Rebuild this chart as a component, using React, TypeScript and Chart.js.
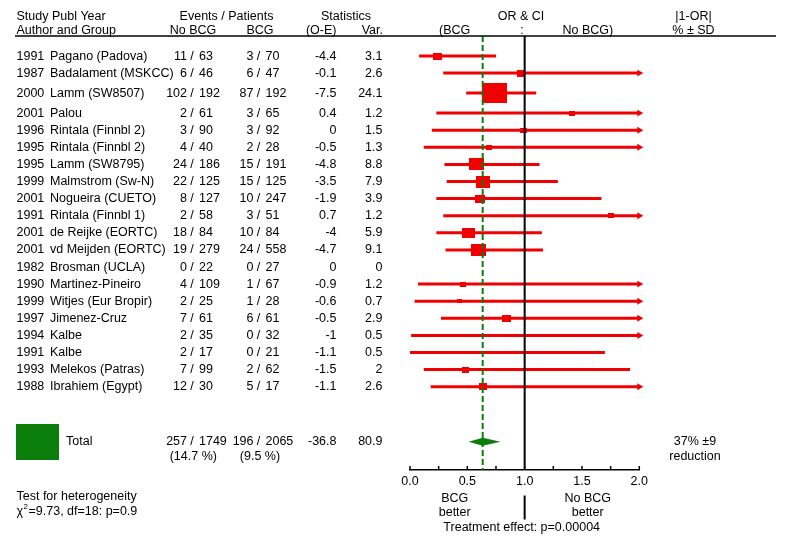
import React, { useEffect, useRef } from 'react';
import { Chart, registerables } from 'chart.js';

Chart.register(...registerables);

// ---------------- data ----------------
const years = [1991, 1987, 2000, 2001, 1996, 1995, 1995, 1999, 2001, 1991, 2001, 2001, 1982, 1990, 1999, 1997, 1994, 1991, 1993, 1988];
const authors = [
  'Pagano (Padova)', 'Badalament (MSKCC)', 'Lamm (SW8507)', 'Palou', 'Rintala (Finnbl 2)',
  'Rintala (Finnbl 2)', 'Lamm (SW8795)', 'Malmstrom (Sw-N)', 'Nogueira (CUETO)', 'Rintala (Finnbl 1)',
  'de Reijke (EORTC)', 'vd Meijden (EORTC)', 'Brosman (UCLA)', 'Martinez-Pineiro', 'Witjes (Eur Bropir)',
  'Jimenez-Cruz', 'Kalbe', 'Kalbe', 'Melekos (Patras)', 'Ibrahiem (Egypt)',
];
const noBcgEvents = [11, 6, 102, 2, 3, 4, 24, 22, 8, 2, 18, 19, 0, 4, 2, 7, 2, 2, 7, 12];
const noBcgPatients = [63, 46, 192, 61, 90, 40, 186, 125, 127, 58, 84, 279, 22, 109, 25, 61, 35, 17, 99, 30];
const bcgEvents = [3, 6, 87, 3, 3, 2, 15, 15, 10, 3, 10, 24, 0, 1, 1, 6, 0, 0, 2, 5];
const bcgPatients = [70, 47, 192, 65, 92, 28, 191, 125, 247, 51, 84, 558, 27, 67, 28, 61, 32, 21, 62, 17];
const oMinusE = [-4.4, -0.1, -7.5, 0.4, 0, -0.5, -4.8, -3.5, -1.9, 0.7, -4, -4.7, 0, -0.9, -0.6, -0.5, -1, -1.1, -1.5, -1.1];
const variance = [3.1, 2.6, 24.1, 1.2, 1.5, 1.3, 8.8, 7.9, 3.9, 1.2, 5.9, 9.1, 0, 1.2, 0.7, 2.9, 0.5, 0.5, 2, 2.6];
// odds ratios and confidence limits (null = not estimable)
const oddsRatio = [0.24, 0.97, 0.74, 1.41, 0.99, 0.69, 0.58, 0.64, 0.61, 1.75, 0.51, 0.60, null, 0.46, 0.43, 0.84, 0.14, 0.11, 0.48, 0.64];
const ciLow = [0.08, 0.29, 0.49, 0.23, 0.19, 0.12, 0.30, 0.32, 0.23, 0.29, 0.23, 0.31, null, 0.07, 0.04, 0.27, 0.01, 0.0, 0.12, 0.18];
const ciHigh = [0.75, 3.2, 1.10, 4.2, 4.9, 3.8, 1.13, 1.29, 1.67, 10.6, 1.15, 1.16, null, 2.8, 4.5, 2.7, 2.2, 1.70, 1.92, 2.2];

const totalNoBcg = ['257', '1749'];
const totalBcg = ['196', '2065'];
const totalPct = ['(14.7 %)', '(9.5 %)'];
const totalStats = ['-36.8', '80.9'];
const pooledOR = 0.634;
const pooledLow = 0.511;
const pooledHigh = 0.789;
const reductionText = ['37% ±9', 'reduction'];
const heterogeneity = ['Test for heterogeneity', '=9.73, df=18: p=0.9'];
const treatmentEffect = 'Treatment effect: p=0.00004';
const xTickLabels = ['0.0', '0.5', '1.0', '1.5', '2.0'];

// ---------------- layout helpers ----------------
const ROW_PX = 17.1;
const Y_MAX = 434 / ROW_PX;
const rowPos: number[] = [];
{
  let p = 1.17;
  for (let i = 0; i < years.length; i++) {
    if (i > 0) {
      p += 1;
      if (variance[i] > 20 || variance[i - 1] > 20) p += 0.17;
    }
    rowPos.push(p);
  }
}
const TOTAL_POS = 23.73;
const RED = 'rgb(240,0,0)';
const GREEN = '#0a7d0a';
const FONT = (s = 12.5) => `${s}px "Liberation Sans", Arial, Helvetica, sans-serif`;

function makeBox(w: number, h: number, color: string) {
  const c = document.createElement('canvas');
  c.width = Math.max(1, Math.round(w));
  c.height = Math.max(1, Math.round(h));
  const g = c.getContext('2d')!;
  g.fillStyle = color;
  g.fillRect(0, 0, c.width, c.height);
  return c;
}

export default function App() {
  const ref = useRef<HTMLCanvasElement | null>(null);

  useEffect(() => {
    document.body.style.margin = '0';
    const canvas = ref.current!;

    const datasets: any[] = [];

    // dashed pooled line (top)
    datasets.push({
      data: [{ x: pooledOR, y: 0 }, { x: pooledOR, y: Y_MAX }],
      showLine: true, borderColor: GREEN, borderWidth: 2, borderDash: [6, 3],
      pointRadius: 0, order: 0, clip: false,
    });
    // line of no effect
    datasets.push({
      data: [{ x: 1, y: 0 }, { x: 1, y: Y_MAX }],
      showLine: true, borderColor: '#000', borderWidth: 2,
      pointRadius: 0, order: 1, clip: false,
    });
    // boxes
    const boxData: any[] = [];
    const boxStyles: any[] = [];
    const boxRadius: number[] = [];
    for (let i = 0; i < years.length; i++) {
      if (oddsRatio[i] == null || variance[i] <= 0) continue;
      const w = 5 * Math.sqrt(variance[i]) + 0.4;
      const h = w * 0.8;
      boxData.push({ x: oddsRatio[i], y: rowPos[i] });
      boxStyles.push(makeBox(w, h, RED));
      boxRadius.push(Math.max(1, w / 2));
    }
    datasets.push({
      data: boxData, pointStyle: boxStyles, pointRadius: boxRadius,
      showLine: false, order: 2, clip: false,
    });
    // arrows
    const arrowData: any[] = [];
    for (let i = 0; i < years.length; i++) {
      if (ciHigh[i] != null && (ciHigh[i] as number) > 2) arrowData.push({ x: 2, y: rowPos[i] });
    }
    datasets.push({
      data: arrowData, pointStyle: 'triangle', rotation: 90, pointRadius: 4,
      backgroundColor: RED, borderColor: RED, borderWidth: 0,
      showLine: false, order: 3, clip: false,
    });
    // CI lines
    for (let i = 0; i < years.length; i++) {
      if (ciLow[i] == null || ciHigh[i] == null) continue;
      datasets.push({
        data: [{ x: ciLow[i], y: rowPos[i] }, { x: Math.min(2, ciHigh[i] as number), y: rowPos[i] }],
        showLine: true, borderColor: RED, borderWidth: 3, borderCapStyle: 'butt',
        pointRadius: 0, order: 4, clip: false,
      });
    }

    const textPlugin = {
      id: 'forestText',
      beforeDraw(chart: any) {
        const ctx = chart.ctx;
        ctx.save();
        ctx.fillStyle = '#fff';
        ctx.fillRect(0, 0, chart.width, chart.height);
        ctx.restore();
      },
      afterDatasetsDraw(chart: any) {
        const ctx = chart.ctx;
        const xs = chart.scales.x;
        const ys = chart.scales.y;
        ctx.save();
        // diamond
        const yT = ys.getPixelForValue(TOTAL_POS);
        ctx.fillStyle = GREEN;
        ctx.beginPath();
        ctx.moveTo(xs.getPixelForValue(pooledLow), yT);
        ctx.lineTo(xs.getPixelForValue(pooledOR), yT - 4);
        ctx.lineTo(xs.getPixelForValue(pooledHigh), yT);
        ctx.lineTo(xs.getPixelForValue(pooledOR), yT + 4);
        ctx.closePath();
        ctx.fill();
        ctx.restore();
      },
      afterDraw(chart: any) {
        const ctx = chart.ctx;
        const xs = chart.scales.x;
        const ys = chart.scales.y;
        ctx.save();
        ctx.fillStyle = '#000';
        ctx.strokeStyle = '#000';
        ctx.textBaseline = 'alphabetic';
        ctx.font = FONT();
        const t = (s: string, x: number, y: number, a: CanvasTextAlign = 'left') => {
          ctx.textAlign = a;
          ctx.fillText(s, x, y);
        };
        const pair = (a: string, b: string, sx: number, y: number) => {
          t(a, sx - 5, y, 'right');
          t('/', sx, y, 'center');
          t(b, sx + 7, y, 'left');
        };
        // header line
        ctx.lineWidth = 1.5;
        ctx.beginPath();
        ctx.moveTo(15, 36);
        ctx.lineTo(776, 36);
        ctx.stroke();
        // header text
        t('Study Publ Year', 16.5, 20);
        t('Author and Group', 16.5, 33.5);
        t('Events / Patients', 226.5, 20, 'center');
        t('No BCG', 193, 33.5, 'center');
        t('BCG', 260, 33.5, 'center');
        t('Statistics', 346, 20, 'center');
        t('(O-E)', 336.5, 33.5, 'right');
        t('Var.', 383, 33.5, 'right');
        t('OR & CI', 521, 20, 'center');
        t('(BCG', 439, 33.5);
        t(':', 522, 33.5, 'center');
        t('No BCG)', 562.5, 33.5);
        t('|1-OR|', 693.5, 20, 'center');
        t('% ± SD', 693.5, 33.5, 'center');
        // rows
        for (let i = 0; i < years.length; i++) {
          const y = ys.getPixelForValue(rowPos[i]) + 3.5;
          t(String(years[i]), 16.5, y);
          t(authors[i], 50, y);
          pair(String(noBcgEvents[i]), String(noBcgPatients[i]), 192, y);
          pair(String(bcgEvents[i]), String(bcgPatients[i]), 258.5, y);
          t(String(oMinusE[i]), 336.5, y, 'right');
          t(String(variance[i]), 382.5, y, 'right');
        }
        // total
        ctx.fillStyle = GREEN;
        ctx.fillRect(16, 424, 43, 36);
        ctx.fillStyle = '#000';
        const yT = ys.getPixelForValue(TOTAL_POS) + 3.5;
        t('Total', 66, yT);
        pair(totalNoBcg[0], totalNoBcg[1], 192, yT);
        pair(totalBcg[0], totalBcg[1], 258.5, yT);
        t(totalStats[0], 336.5, yT, 'right');
        t(totalStats[1], 382.5, yT, 'right');
        t(totalPct[0], 193.3, yT + 15, 'center');
        t(totalPct[1], 260, yT + 15, 'center');
        t(reductionText[0], 695, yT, 'center');
        t(reductionText[1], 695, yT + 14.5, 'center');
        // axis tick marks (upward)
        const yAxis = chart.chartArea.bottom;
        ctx.lineWidth = 1.5;
        for (const tk of xs.ticks) {
          const px = xs.getPixelForValue(tk.value);
          ctx.beginPath();
          ctx.moveTo(px, yAxis);
          ctx.lineTo(px, yAxis - 4);
          ctx.stroke();
        }
        // bottom texts
        const xBcg = xs.getPixelForValue(0.39);
        const xNo = xs.getPixelForValue(1.55);
        t('BCG', xBcg, 501.5, 'center');
        t('better', xBcg, 516, 'center');
        t('No BCG', xNo, 501.5, 'center');
        t('better', xNo, 516, 'center');
        t(treatmentEffect, 521.7, 530.5, 'center');
        const x1 = xs.getPixelForValue(1);
        ctx.lineWidth = 2;
        ctx.beginPath();
        ctx.moveTo(x1, 495.5);
        ctx.lineTo(x1, 519.5);
        ctx.stroke();
        // heterogeneity
        t(heterogeneity[0], 16.5, 500);
        t('\u03C7', 16.5, 515);
        const cw = ctx.measureText('\u03C7').width;
        ctx.font = FONT(8);
        t('2', 16.5 + cw + 0.5, 509);
        const sw = ctx.measureText('2').width;
        ctx.font = FONT();
        t(heterogeneity[1], 16.5 + cw + sw + 1, 515);
        ctx.restore();
      },
    };

    const chart = new Chart(canvas, {
      type: 'scatter',
      data: { datasets },
      options: {
        animation: false,
        responsive: false,
        devicePixelRatio: 1,
        events: [],
        layout: { padding: { left: 410, right: 146.7, top: 36, bottom: 0 } },
        plugins: { legend: { display: false }, tooltip: { enabled: false } },
        scales: {
          x: {
            type: 'linear',
            position: 'bottom',
            min: 0,
            max: 2,
            afterFit: (s: any) => { s.height = 75; },
            grid: { display: true, drawOnChartArea: false, drawTicks: false, color: 'rgba(0,0,0,0)' },
            border: { display: true, color: '#000', width: 1.5 },
            ticks: {
              stepSize: 0.25,
              autoSkip: false,
              maxRotation: 0,
              padding: 4,
              color: '#000',
              font: { family: '"Liberation Sans", Arial, sans-serif', size: 12.5 },
              callback: (v: any) => {
                const idx = Math.round(Number(v) * 2);
                return Math.abs(Number(v) * 2 - idx) < 1e-6 ? xTickLabels[idx] : '';
              },
            },
          },
          y: {
            type: 'linear',
            min: 0,
            max: Y_MAX,
            reverse: true,
            display: false,
          },
        },
      } as any,
      plugins: [textPlugin],
    });
    return () => chart.destroy();
  }, []);

  return (
    <div style={{ position: 'absolute', left: 0, top: 0, width: 786, height: 545, background: '#fff' }}>
      <canvas ref={ref} width={786} height={545} style={{ display: 'block', width: 786, height: 545 }} />
    </div>
  );
}
